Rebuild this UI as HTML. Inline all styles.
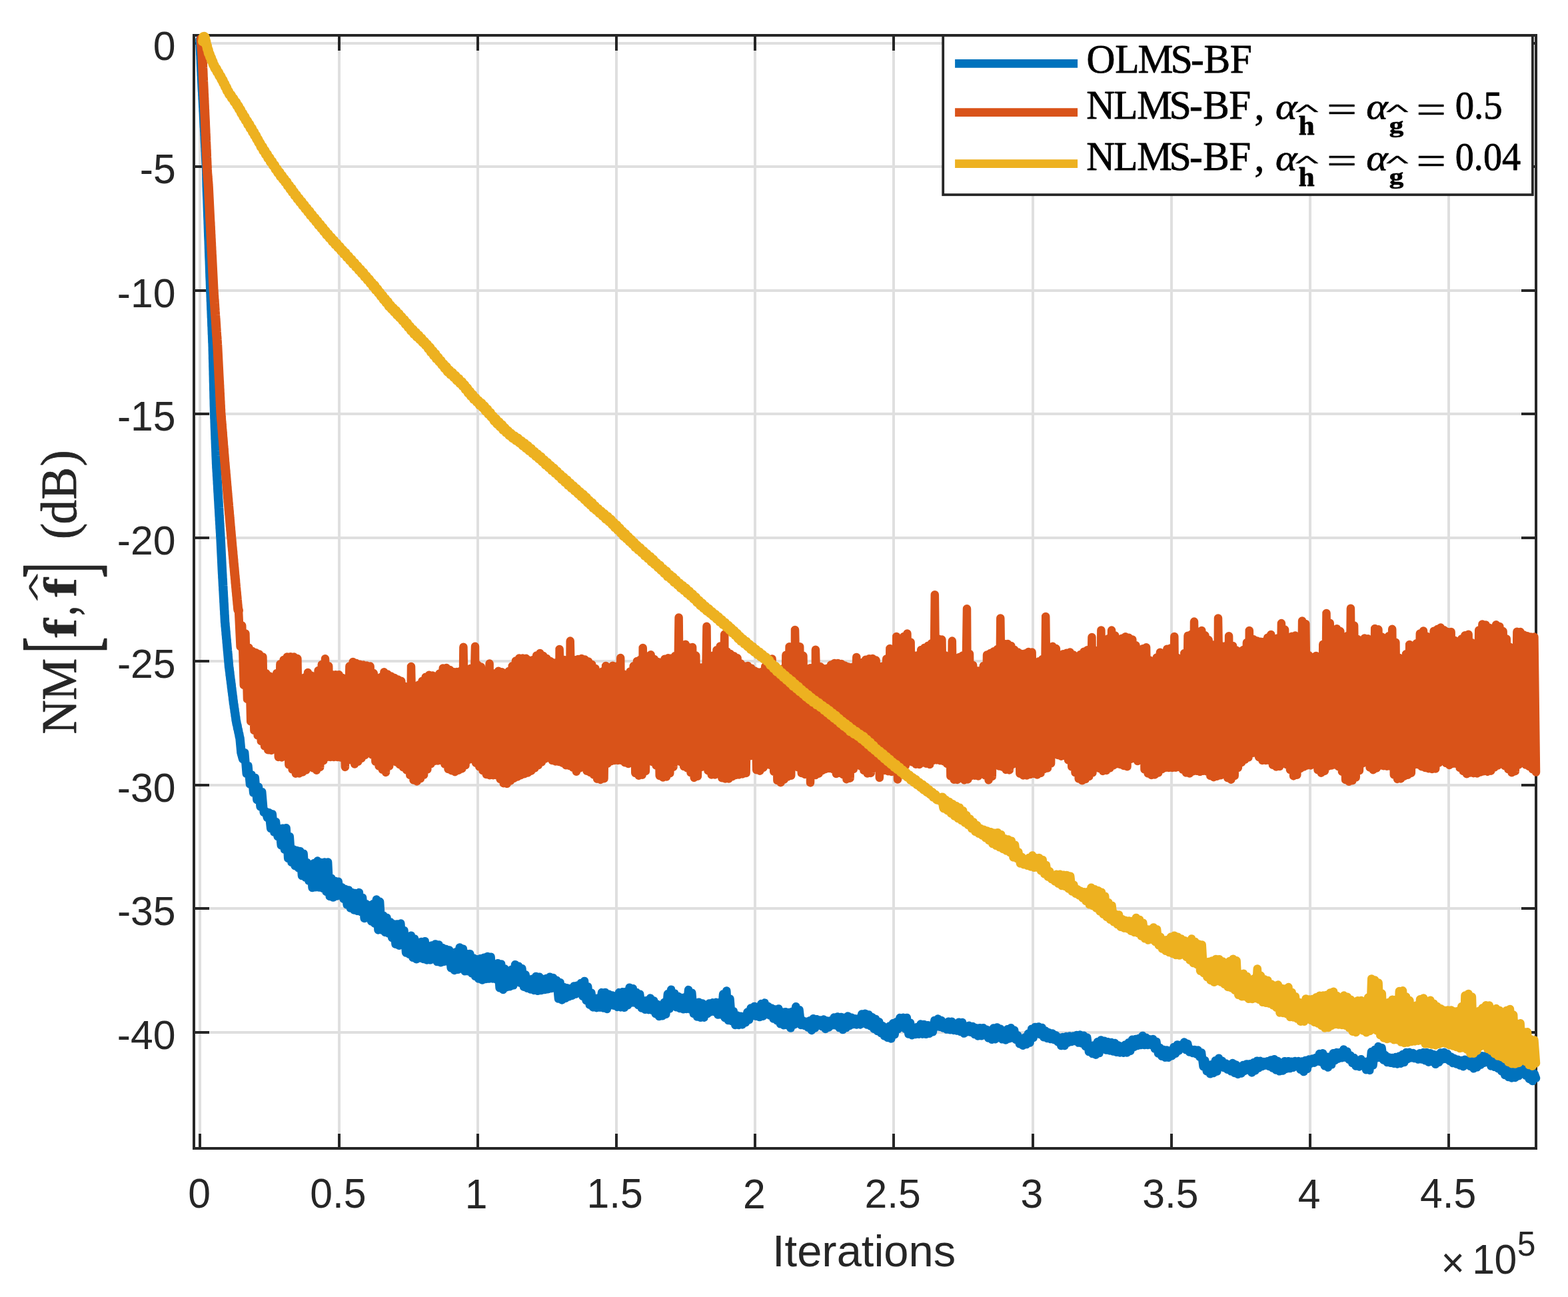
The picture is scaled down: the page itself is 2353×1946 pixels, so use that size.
<!DOCTYPE html>
<html lang="en"><head><meta charset="utf-8"><title>NM convergence</title>
<style>
html,body{margin:0;padding:0;background:#fff;}
body{width:2353px;height:1946px;overflow:hidden;}
svg{display:block;}
</style></head>
<body>
<svg width="2353" height="1946" viewBox="0 0 2353 1946" role="img" aria-label="Normalized misalignment versus iterations">
<rect width="2353" height="1946" fill="#fff"/>
<g stroke="#DFDFDF" stroke-width="4" fill="none" shape-rendering="crispEdges"><line x1="300.0" y1="53.0" x2="300.0" y2="1723.0"/><line x1="509.0" y1="53.0" x2="509.0" y2="1723.0"/><line x1="717.0" y1="53.0" x2="717.0" y2="1723.0"/><line x1="925.0" y1="53.0" x2="925.0" y2="1723.0"/><line x1="1133.0" y1="53.0" x2="1133.0" y2="1723.0"/><line x1="1341.0" y1="53.0" x2="1341.0" y2="1723.0"/><line x1="1550.0" y1="53.0" x2="1550.0" y2="1723.0"/><line x1="1758.0" y1="53.0" x2="1758.0" y2="1723.0"/><line x1="1966.0" y1="53.0" x2="1966.0" y2="1723.0"/><line x1="2174.0" y1="53.0" x2="2174.0" y2="1723.0"/><line x1="291.0" y1="65.0" x2="2305.0" y2="65.0"/><line x1="291.0" y1="250.0" x2="2305.0" y2="250.0"/><line x1="291.0" y1="436.0" x2="2305.0" y2="436.0"/><line x1="291.0" y1="621.0" x2="2305.0" y2="621.0"/><line x1="291.0" y1="807.0" x2="2305.0" y2="807.0"/><line x1="291.0" y1="992.0" x2="2305.0" y2="992.0"/><line x1="291.0" y1="1178.0" x2="2305.0" y2="1178.0"/><line x1="291.0" y1="1363.0" x2="2305.0" y2="1363.0"/><line x1="291.0" y1="1549.0" x2="2305.0" y2="1549.0"/></g>
<g stroke="#262626" stroke-width="4" fill="none" shape-rendering="crispEdges"><rect x="291.0" y="53.0" width="2014.0" height="1670.0"/><line x1="300.0" y1="1723.0" x2="300.0" y2="1700.5"/><line x1="300.0" y1="53.0" x2="300.0" y2="75.5"/><line x1="509.0" y1="1723.0" x2="509.0" y2="1700.5"/><line x1="509.0" y1="53.0" x2="509.0" y2="75.5"/><line x1="717.0" y1="1723.0" x2="717.0" y2="1700.5"/><line x1="717.0" y1="53.0" x2="717.0" y2="75.5"/><line x1="925.0" y1="1723.0" x2="925.0" y2="1700.5"/><line x1="925.0" y1="53.0" x2="925.0" y2="75.5"/><line x1="1133.0" y1="1723.0" x2="1133.0" y2="1700.5"/><line x1="1133.0" y1="53.0" x2="1133.0" y2="75.5"/><line x1="1341.0" y1="1723.0" x2="1341.0" y2="1700.5"/><line x1="1341.0" y1="53.0" x2="1341.0" y2="75.5"/><line x1="1550.0" y1="1723.0" x2="1550.0" y2="1700.5"/><line x1="1550.0" y1="53.0" x2="1550.0" y2="75.5"/><line x1="1758.0" y1="1723.0" x2="1758.0" y2="1700.5"/><line x1="1758.0" y1="53.0" x2="1758.0" y2="75.5"/><line x1="1966.0" y1="1723.0" x2="1966.0" y2="1700.5"/><line x1="1966.0" y1="53.0" x2="1966.0" y2="75.5"/><line x1="2174.0" y1="1723.0" x2="2174.0" y2="1700.5"/><line x1="2174.0" y1="53.0" x2="2174.0" y2="75.5"/><line x1="291.0" y1="65.0" x2="313.5" y2="65.0"/><line x1="2305.0" y1="65.0" x2="2282.5" y2="65.0"/><line x1="291.0" y1="250.0" x2="313.5" y2="250.0"/><line x1="2305.0" y1="250.0" x2="2282.5" y2="250.0"/><line x1="291.0" y1="436.0" x2="313.5" y2="436.0"/><line x1="2305.0" y1="436.0" x2="2282.5" y2="436.0"/><line x1="291.0" y1="621.0" x2="313.5" y2="621.0"/><line x1="2305.0" y1="621.0" x2="2282.5" y2="621.0"/><line x1="291.0" y1="807.0" x2="313.5" y2="807.0"/><line x1="2305.0" y1="807.0" x2="2282.5" y2="807.0"/><line x1="291.0" y1="992.0" x2="313.5" y2="992.0"/><line x1="2305.0" y1="992.0" x2="2282.5" y2="992.0"/><line x1="291.0" y1="1178.0" x2="313.5" y2="1178.0"/><line x1="2305.0" y1="1178.0" x2="2282.5" y2="1178.0"/><line x1="291.0" y1="1363.0" x2="313.5" y2="1363.0"/><line x1="2305.0" y1="1363.0" x2="2282.5" y2="1363.0"/><line x1="291.0" y1="1549.0" x2="313.5" y2="1549.0"/><line x1="2305.0" y1="1549.0" x2="2282.5" y2="1549.0"/></g>
<polyline points="299.9,60.0 300.0,63.1 300.2,66.1 300.3,69.7 300.4,71.7 300.6,75.9 300.7,77.8 300.8,82.0 301.0,83.9 301.1,88.0 301.3,90.1 301.4,94.2 301.5,96.2 301.7,100.3 301.8,102.4 301.9,106.4 302.1,108.5 302.2,112.5 302.4,114.5 302.5,118.4 302.7,120.5 302.9,124.5 303.0,126.4 303.2,130.6 303.3,132.6 303.5,136.6 303.7,138.6 303.8,142.5 304.0,144.6 304.1,148.4 304.3,150.4 304.5,154.5 304.6,156.5 304.8,160.6 305.0,162.4 305.1,166.5 305.3,168.4 305.5,172.5 305.6,174.5 305.8,178.5 305.9,180.4 306.1,184.5 306.2,186.4 306.4,190.6 306.6,192.5 306.7,196.5 306.9,198.6 307.0,202.4 307.2,204.6 307.3,208.5 307.4,210.5 307.6,214.4 307.8,216.5 307.9,220.5 308.1,222.5 308.2,226.6 308.4,228.5 308.5,232.5 308.6,234.5 308.8,238.5 308.9,240.6 309.1,244.6 309.2,246.6 309.4,250.6 309.6,252.4 309.7,256.4 309.8,258.4 309.8,262.5 309.9,264.5 309.9,268.4 310.0,270.6 310.1,274.5 310.1,276.4 310.2,280.5 310.3,282.5 310.4,286.7 310.5,288.6 310.6,292.7 310.7,294.8 310.9,298.8 311.0,300.8 311.1,304.8 311.2,306.9 311.3,311.1 311.4,313.0 311.5,317.0 311.6,319.0 311.7,323.1 311.8,325.3 312.0,329.3 312.1,331.2 312.2,335.4 312.3,337.3 312.4,341.5 312.5,343.6 312.6,347.6 312.7,349.7 312.8,353.6 312.9,355.8 313.1,359.8 313.2,361.7 313.3,365.8 313.4,368.0 313.5,372.1 313.6,374.0 313.7,378.1 313.8,380.2 313.9,384.2 314.0,386.1 314.2,390.3 314.3,392.3 314.4,396.3 314.5,398.3 314.6,402.4 314.7,404.5 314.8,408.6 314.9,410.7 315.0,414.7 315.1,416.6 315.3,420.8 315.4,422.7 315.5,426.8 315.6,428.9 315.7,432.9 315.8,434.9 315.9,439.1 316.1,441.2 316.2,445.4 316.3,447.3 316.4,451.6 316.6,453.6 316.7,457.7 316.8,459.7 316.9,463.8 317.1,466.0 317.2,470.0 317.3,472.2 317.4,476.2 317.6,478.2 317.7,482.5 317.8,484.4 317.9,488.6 318.1,490.7 318.2,494.7 318.3,496.9 318.4,501.0 318.6,503.0 318.7,507.1 318.8,509.2 318.9,513.4 319.1,515.4 319.2,519.5 319.3,521.4 319.3,525.5 319.4,527.5 319.5,531.5 319.6,533.5 319.6,537.6 319.7,539.5 319.8,543.5 319.9,545.4 319.9,549.5 320.0,551.5 320.1,555.4 320.2,557.5 320.2,561.5 320.3,563.5 320.4,567.5 320.4,569.4 320.5,573.5 320.6,575.4 320.7,579.5 320.7,581.5 320.8,585.6 320.9,587.4 321.0,591.5 321.0,593.4 321.1,597.6 321.2,599.5 321.3,603.6 321.3,605.4 321.4,609.5 321.5,611.5 321.6,615.4 321.6,617.4 321.7,621.6 321.8,623.6 321.9,627.7 322.1,629.7 322.2,633.9 322.3,636.0 322.4,640.1 322.5,642.1 322.7,646.2 322.8,648.3 322.9,652.4 323.0,654.4 323.1,658.5 323.3,660.5 323.4,664.6 323.5,666.8 323.6,670.8 323.8,672.9 323.9,677.0 324.0,679.0 324.1,683.2 324.2,685.3 324.4,689.3 324.5,691.5 324.6,695.4 324.8,697.6 324.9,701.5 325.1,703.6 325.3,707.6 325.5,709.7 325.6,713.7 325.8,715.7 326.0,719.7 326.2,721.7 326.3,725.7 326.5,727.7 326.7,731.7 326.8,733.9 327.0,737.8 327.2,739.9 327.4,743.9 327.5,745.9 327.7,750.0 327.9,752.1 328.1,756.1 328.2,758.1 328.4,762.1 328.6,764.1 328.8,768.2 328.9,770.1 329.1,774.3 329.3,776.2 329.4,780.3 329.6,782.2 329.8,786.3 330.0,788.4 330.1,792.4 330.3,794.4 330.5,798.5 330.7,800.4 330.8,804.5 331.0,806.5 331.2,810.7 331.3,812.8 331.5,816.8 331.6,818.9 331.8,823.1 331.9,825.3 332.1,829.4 332.2,831.4 332.4,835.5 332.5,837.7 332.7,841.8 332.8,843.9 333.0,848.1 333.1,850.2 333.3,854.4 333.4,856.3 333.6,860.5 333.8,862.6 333.9,866.7 334.1,868.6 334.3,872.7 334.4,874.7 334.6,878.8 334.8,880.8 334.9,884.8 335.1,886.9 335.3,890.9 335.4,892.9 335.6,897.0 335.8,899.1 335.9,903.1 336.1,905.1 336.3,909.1 336.4,911.2 336.6,915.2 336.8,917.2 336.9,921.4 337.1,923.4 337.3,927.4 337.4,929.5 337.6,933.6 337.9,935.6 338.1,939.6 338.4,941.6 338.7,945.7 339.0,947.7 339.2,951.8 339.5,953.9 339.8,957.9 340.1,959.9 340.3,964.0 340.6,966.0 340.9,970.0 341.1,972.1 341.4,976.1 341.7,978.2 342.0,982.3 342.2,984.2 342.5,988.2 342.8,990.4 343.1,994.4 343.3,996.4 343.6,1000.6 344.0,1002.5 344.4,1006.5 344.8,1008.6 345.1,1012.7 345.5,1014.8 345.9,1018.9 346.3,1020.9 346.7,1025.0 347.1,1026.9 347.4,1031.0 347.8,1033.1 348.2,1037.2 348.6,1039.3 349.0,1043.3 349.4,1045.3 349.7,1049.3 350.1,1051.4 350.5,1055.5 351.0,1057.6 351.4,1061.7 351.9,1063.8 352.3,1068.0 352.8,1070.1 353.2,1074.2 353.7,1076.3 354.1,1080.4 354.6,1082.5 355.3,1086.5 356.0,1088.6 356.6,1092.8 357.3,1094.9 358.0,1098.8 358.6,1100.9 359.3,1105.1 360.0,1107.6 362.0,1129.2 364.6,1138.6" fill="none" stroke="#0072BD" stroke-width="13.50" stroke-linejoin="round" stroke-linecap="round"/>
<polyline points="362.0,1129.2 364.6,1138.6 367.2,1129.2 369.8,1161.1 372.4,1148.8 375.0,1176.8 377.6,1162.3 380.2,1189.6 382.8,1167.0 385.4,1200.0 388.0,1180.7 390.6,1210.4 393.2,1188.1 395.8,1219.0 398.4,1216.9 401.0,1226.9 403.6,1219.2 406.2,1243.1 408.8,1221.5 411.4,1248.6 414.0,1232.8 416.6,1255.0 419.2,1243.1 421.8,1268.4 424.4,1242.7 427.0,1274.8 429.6,1242.3 432.2,1287.9 434.8,1255.3 437.4,1293.8 440.0,1274.3 442.6,1299.2 445.2,1275.9 447.8,1302.4 450.4,1277.1 453.0,1314.1 455.6,1280.8 458.2,1316.4 460.8,1294.3 463.4,1321.6 466.0,1298.5 468.6,1332.0 471.2,1295.0 473.8,1331.3 476.4,1291.6 479.0,1331.6 481.6,1294.0 484.3,1332.9 486.9,1293.5 489.5,1337.9 492.1,1293.4 494.7,1344.9 497.3,1317.6 499.9,1346.6 502.5,1321.8 505.1,1344.6 507.7,1322.7 510.3,1343.6 512.9,1331.0 515.5,1348.8 518.1,1333.8 520.7,1357.6 523.3,1335.4 525.9,1362.6 528.5,1339.1 531.1,1365.5 533.7,1340.1 536.3,1366.9 538.9,1339.1 541.5,1368.1 544.1,1346.9 546.7,1377.9 549.3,1356.2 551.9,1377.0 554.5,1358.2 557.1,1382.4 559.7,1356.3 562.3,1385.8 564.9,1349.5 567.5,1395.4 570.1,1352.8 572.7,1395.4 575.3,1373.7 577.9,1398.9 580.5,1376.9 583.1,1400.5 585.7,1383.4 588.3,1407.2 590.9,1386.4 593.5,1416.7 596.1,1386.6 598.7,1418.8 601.3,1385.4 603.9,1417.9 606.5,1396.2 609.1,1429.4 611.7,1404.7 614.3,1432.0 616.9,1403.8 619.5,1436.8 622.1,1408.4 624.7,1439.3 627.3,1413.7 629.9,1437.5 632.5,1412.9 635.1,1439.0 637.7,1412.3 640.3,1440.5 642.9,1419.2 645.5,1440.4 648.1,1418.5 650.7,1439.1 653.3,1416.4 655.9,1443.1 658.5,1417.4 661.1,1444.3 663.7,1421.9 666.3,1442.9 668.9,1424.0 671.5,1440.3 674.1,1425.4 676.7,1452.4 679.3,1429.3 681.9,1456.0 684.5,1428.3 687.1,1454.7 689.7,1421.6 692.3,1450.9 694.9,1423.6 697.5,1457.3 700.1,1431.0 702.7,1457.3 705.3,1431.1 707.9,1460.4 710.5,1437.5 713.1,1464.9 715.7,1439.3 718.3,1468.6 720.9,1438.2 723.5,1470.4 726.1,1436.8 728.8,1469.1 731.4,1434.9 734.0,1468.4 736.6,1435.8 739.2,1468.4 741.8,1446.2 744.4,1469.4 747.0,1445.3 749.6,1482.3 752.2,1446.6 754.8,1484.9 757.4,1453.6 760.0,1481.3 762.6,1457.4 765.2,1480.2 767.8,1454.7 770.4,1478.4 773.0,1447.3 775.6,1470.6 778.2,1449.8 780.8,1474.8 783.4,1453.3 786.0,1480.7 788.6,1462.4 791.2,1482.7 793.8,1469.2 796.4,1484.6 799.0,1468.8 801.6,1485.9 804.2,1464.9 806.8,1486.8 809.4,1465.8 812.0,1486.0 814.6,1469.0 817.2,1485.1 819.8,1468.0 822.4,1484.2 825.0,1465.7 827.6,1483.1 830.2,1467.1 832.8,1482.1 835.4,1470.9 838.0,1498.6 840.6,1474.3 843.2,1500.5 845.8,1481.0 848.4,1497.9 851.0,1482.3 853.6,1495.4 856.2,1482.9 858.8,1493.7 861.4,1479.4 864.0,1491.6 866.6,1478.4 869.2,1489.6 871.8,1475.0 874.4,1494.8 877.0,1471.9 879.6,1501.2 882.2,1480.4 884.8,1507.8 887.4,1489.8 890.0,1511.4 892.6,1497.6 895.2,1512.2 897.8,1497.4 900.4,1511.7 903.0,1489.1 905.6,1512.5 908.2,1489.0 910.8,1514.0 913.4,1491.7 916.0,1508.3 918.6,1493.5 921.2,1508.8 923.8,1494.3 926.4,1510.9 929.0,1489.1 931.6,1511.4 934.2,1488.3 936.8,1511.9 939.4,1487.9 942.0,1508.2 944.6,1481.7 947.2,1504.6 949.8,1483.3 952.4,1504.6 955.0,1488.8 957.6,1508.0 960.2,1491.7 962.8,1512.6 965.4,1501.0 968.0,1514.8 970.7,1501.0 973.3,1515.2 975.9,1497.6 978.5,1515.7 981.1,1501.3 983.7,1521.1 986.3,1506.7 988.9,1525.0 991.5,1508.4 994.1,1524.3 996.7,1504.0 999.3,1521.7 1001.9,1491.3 1004.5,1513.8 1007.1,1484.7 1009.7,1508.3 1012.3,1490.5 1014.9,1511.3 1017.5,1494.8 1020.1,1513.0 1022.7,1497.0 1025.3,1514.3 1027.9,1496.2 1030.5,1513.9 1033.1,1485.1 1035.7,1514.5 1038.3,1489.7 1040.9,1521.1 1043.5,1504.5 1046.1,1525.5 1048.7,1503.8 1051.3,1526.8 1053.9,1505.5 1056.5,1526.7 1059.1,1508.0 1061.7,1521.1 1064.3,1505.4 1066.9,1518.2 1069.5,1504.3 1072.1,1518.2 1074.7,1503.8 1077.3,1522.5 1079.9,1503.9 1082.5,1522.4 1085.1,1491.4 1087.7,1527.0 1090.3,1486.5 1092.9,1531.1 1095.5,1498.8 1098.1,1532.1 1100.7,1517.1 1103.3,1538.0 1105.9,1523.4 1108.5,1538.0 1111.1,1524.7 1113.7,1537.4 1116.3,1525.0 1118.9,1534.2 1121.5,1518.6 1124.1,1530.2 1126.7,1512.4 1129.3,1524.1 1131.9,1510.0 1134.5,1524.8 1137.1,1510.8 1139.7,1526.1 1142.3,1506.1 1144.9,1524.8 1147.5,1504.6 1150.1,1522.1 1152.7,1509.9 1155.3,1523.6 1157.9,1512.5 1160.5,1528.5 1163.1,1514.5 1165.7,1531.1 1168.3,1513.4 1170.9,1536.3 1173.5,1518.5 1176.1,1538.2 1178.7,1518.3 1181.3,1538.2 1183.9,1518.9 1186.5,1542.6 1189.1,1517.7 1191.7,1537.5 1194.3,1510.2 1196.9,1535.6 1199.5,1515.1 1202.1,1538.1 1204.7,1531.2 1207.3,1538.9 1209.9,1532.7 1212.6,1541.8 1215.2,1531.3 1217.8,1546.0 1220.4,1528.3 1223.0,1542.6 1225.6,1529.2 1228.2,1537.8 1230.8,1530.5 1233.4,1540.0 1236.0,1529.6 1238.6,1543.9 1241.2,1531.5 1243.8,1541.4 1246.4,1531.3 1249.0,1538.3 1251.6,1526.5 1254.2,1538.6 1256.8,1525.4 1259.4,1542.1 1262.0,1525.9 1264.6,1545.0 1267.2,1526.7 1269.8,1542.1 1272.4,1524.6 1275.0,1539.0 1277.6,1526.7 1280.2,1537.0 1282.8,1528.2 1285.4,1537.6 1288.0,1528.2 1290.6,1537.4 1293.2,1521.5 1295.8,1535.6 1298.4,1520.8 1301.0,1537.4 1303.6,1522.5 1306.2,1539.5 1308.8,1526.2 1311.4,1543.8 1314.0,1528.9 1316.6,1547.1 1319.2,1533.2 1321.8,1550.0 1324.4,1539.1 1327.0,1554.4 1329.6,1541.7 1332.2,1557.1 1334.8,1539.4 1337.4,1558.4 1340.0,1535.3 1342.6,1552.2 1345.2,1533.3 1347.8,1544.0 1350.4,1527.1 1353.0,1539.5 1355.6,1526.8 1358.2,1543.6 1360.8,1527.0 1363.4,1551.6 1366.0,1534.7 1368.6,1553.2 1371.2,1541.9 1373.8,1552.0 1376.4,1540.9 1379.0,1551.7 1381.6,1536.6 1384.2,1551.7 1386.8,1537.1 1389.4,1551.8 1392.0,1538.2 1394.6,1550.8 1397.2,1538.4 1399.8,1548.2 1402.4,1530.9 1405.0,1540.8 1407.6,1528.5 1410.2,1540.8 1412.8,1531.0 1415.4,1542.4 1418.0,1534.4 1420.6,1544.6 1423.2,1532.7 1425.8,1545.3 1428.4,1532.8 1431.0,1545.9 1433.6,1536.9 1436.2,1546.6 1438.8,1533.7 1441.4,1548.0 1444.0,1534.0 1446.6,1550.6 1449.2,1539.6 1451.8,1548.2 1454.4,1538.8 1457.1,1548.7 1459.7,1539.9 1462.3,1552.0 1464.9,1542.2 1467.5,1554.5 1470.1,1542.2 1472.7,1554.3 1475.3,1542.2 1477.9,1553.2 1480.5,1544.7 1483.1,1557.6 1485.7,1546.0 1488.3,1559.8 1490.9,1542.5 1493.5,1559.2 1496.1,1541.4 1498.7,1557.0 1501.3,1543.7 1503.9,1559.3 1506.5,1549.4 1509.1,1560.5 1511.7,1544.2 1514.3,1558.4 1516.9,1542.2 1519.5,1557.4 1522.1,1545.6 1524.7,1560.1 1527.3,1553.4 1529.9,1566.2 1532.5,1559.5 1535.1,1568.8 1537.7,1556.6 1540.3,1567.1 1542.9,1550.7 1545.5,1564.5 1548.1,1543.8 1550.7,1557.1 1553.3,1540.9 1555.9,1551.3 1558.5,1540.4 1561.1,1552.3 1563.7,1541.9 1566.3,1556.3 1568.9,1546.6 1571.5,1558.0 1574.1,1549.2 1576.7,1559.1 1579.3,1550.5 1581.9,1560.0 1584.5,1553.3 1587.1,1563.0 1589.7,1556.5 1592.3,1569.1 1594.9,1556.1 1597.5,1569.1 1600.1,1555.1 1602.7,1564.5 1605.3,1554.5 1607.9,1563.1 1610.5,1554.5 1613.1,1562.0 1615.7,1553.0 1618.3,1564.6 1620.9,1552.5 1623.5,1565.6 1626.1,1553.7 1628.7,1570.0 1631.3,1556.7 1633.9,1578.0 1636.5,1569.1 1639.1,1581.0 1641.7,1568.2 1644.3,1582.7 1646.9,1563.3 1649.5,1580.1 1652.1,1560.4 1654.7,1570.4 1657.3,1561.7 1659.9,1575.5 1662.5,1563.2 1665.1,1576.4 1667.7,1563.9 1670.3,1577.5 1672.9,1564.9 1675.5,1578.8 1678.1,1568.2 1680.7,1579.4 1683.3,1570.0 1685.9,1579.7 1688.5,1567.4 1691.1,1579.4 1693.7,1564.2 1696.3,1576.9 1699.0,1559.7 1701.6,1571.0 1704.2,1558.9 1706.8,1569.0 1709.4,1557.7 1712.0,1568.0 1714.6,1554.0 1717.2,1568.0 1719.8,1556.8 1722.4,1568.0 1725.0,1559.3 1727.6,1568.0 1730.2,1558.9 1732.8,1573.5 1735.4,1562.9 1738.0,1580.6 1740.6,1572.1 1743.2,1584.7 1745.8,1574.9 1748.4,1586.7 1751.0,1575.5 1753.6,1586.8 1756.2,1579.1 1758.8,1584.2 1761.4,1571.0 1764.0,1580.7 1766.6,1567.4 1769.2,1576.4 1771.8,1567.7 1774.4,1573.0 1777.0,1563.6 1779.6,1575.1 1782.2,1566.1 1784.8,1578.6 1787.4,1574.4 1790.0,1580.1 1792.6,1574.9 1795.2,1581.6 1797.8,1575.5 1800.4,1585.9 1803.0,1579.3 1805.6,1600.2 1808.2,1590.9 1810.8,1607.2 1813.4,1597.5 1816.0,1611.3 1818.6,1597.1 1821.2,1610.0 1823.8,1591.3 1826.4,1607.5 1829.0,1587.8 1831.6,1599.5 1834.2,1591.7 1836.8,1602.1 1839.4,1595.4 1842.0,1604.7 1844.6,1597.2 1847.2,1607.3 1849.8,1595.0 1852.4,1609.9 1855.0,1597.5 1857.6,1611.9 1860.2,1601.9 1862.8,1610.6 1865.4,1598.1 1868.0,1606.7 1870.6,1596.4 1873.2,1605.5 1875.8,1596.2 1878.4,1609.4 1881.0,1594.3 1883.6,1606.4 1886.2,1591.7 1888.8,1602.5 1891.4,1591.8 1894.0,1600.1 1896.6,1593.0 1899.2,1598.6 1901.8,1592.3 1904.4,1600.0 1907.0,1590.4 1909.6,1602.4 1912.2,1589.2 1914.8,1605.4 1917.4,1591.9 1920.0,1607.3 1922.6,1596.5 1925.2,1606.5 1927.8,1592.2 1930.4,1603.7 1933.0,1592.2 1935.6,1603.1 1938.2,1592.8 1940.9,1601.7 1943.5,1592.0 1946.1,1600.0 1948.7,1592.1 1951.3,1604.7 1953.9,1592.6 1956.5,1608.1 1959.1,1590.9 1961.7,1603.9 1964.3,1589.6 1966.9,1595.7 1969.5,1588.5 1972.1,1594.8 1974.7,1586.9 1977.3,1592.6 1979.9,1581.1 1982.5,1593.6 1985.1,1580.3 1987.7,1599.2 1990.3,1585.5 1992.9,1601.6 1995.5,1585.6 1998.1,1597.5 2000.7,1580.3 2003.3,1591.1 2005.9,1579.0 2008.5,1588.5 2011.1,1579.0 2013.7,1587.3 2016.3,1574.5 2018.9,1586.4 2021.5,1577.6 2024.1,1589.7 2026.7,1583.5 2029.3,1595.0 2031.9,1587.0 2034.5,1599.6 2037.1,1590.8 2039.7,1600.4 2042.3,1589.2 2044.9,1598.4 2047.5,1592.7 2050.1,1605.2 2052.7,1592.2 2055.3,1605.9 2057.9,1578.0 2060.5,1598.4 2063.1,1574.9 2065.7,1587.5 2068.3,1570.1 2070.9,1587.0 2073.5,1572.1 2076.1,1590.5 2078.7,1582.8 2081.3,1593.9 2083.9,1586.2 2086.5,1594.8 2089.1,1587.0 2091.7,1595.7 2094.3,1586.1 2096.9,1596.5 2099.5,1584.8 2102.1,1595.7 2104.7,1582.1 2107.3,1594.0 2109.9,1579.0 2112.5,1588.9 2115.1,1578.7 2117.7,1587.3 2120.3,1580.0 2122.9,1588.1 2125.5,1582.1 2128.1,1589.5 2130.7,1580.2 2133.3,1589.5 2135.9,1579.0 2138.5,1591.2 2141.1,1579.0 2143.7,1593.7 2146.3,1580.3 2148.9,1592.8 2151.5,1582.0 2154.1,1596.8 2156.7,1582.8 2159.3,1594.0 2161.9,1579.5 2164.5,1589.4 2167.1,1578.8 2169.7,1588.9 2172.3,1581.2 2174.9,1591.7 2177.5,1585.5 2180.1,1595.1 2182.7,1588.1 2185.4,1596.4 2188.0,1589.8 2190.6,1598.6 2193.2,1591.0 2195.8,1600.2 2198.4,1589.7 2201.0,1597.6 2203.6,1590.1 2206.2,1599.8 2208.8,1593.0 2211.4,1603.3 2214.0,1590.4 2216.6,1601.3 2219.2,1585.7 2221.8,1597.7 2224.4,1584.3 2227.0,1594.8 2229.6,1584.2 2232.2,1593.9 2234.8,1587.1 2237.4,1599.5 2240.0,1590.3 2242.6,1600.8 2245.2,1593.6 2247.8,1603.1 2250.4,1596.9 2253.0,1607.0 2255.6,1600.8 2258.2,1613.0 2260.8,1603.9 2263.4,1616.0 2266.0,1605.9 2268.6,1617.5 2271.2,1605.9 2273.8,1617.0 2276.4,1605.2 2279.0,1614.2 2281.6,1603.3 2284.2,1609.9 2286.8,1602.9 2289.4,1613.7 2292.0,1605.6 2294.6,1618.9 2297.2,1609.1 2299.8,1622.1 2302.4,1610.4 2305.0,1617.7" fill="none" stroke="#0072BD" stroke-width="12.50" stroke-linejoin="round" stroke-linecap="round"/>
<polyline points="301.6,58.5 301.8,61.6 302.1,64.6 302.3,68.3 302.5,70.2 302.7,74.4 303.0,76.5 303.2,80.4 303.4,83.0 303.6,87.5 303.7,90.0 303.9,94.6 304.1,97.0 304.2,101.7 304.4,104.2 304.6,109.0 304.7,111.5 304.8,115.5 305.0,117.5 305.1,121.5 305.2,123.5 305.4,127.6 305.5,129.5 305.7,133.6 305.8,135.5 305.9,139.6 306.1,141.5 306.2,145.4 306.4,147.4 306.5,151.6 306.6,153.5 306.8,157.4 306.9,159.5 307.0,163.5 307.2,165.5 307.3,169.6 307.4,171.5 307.6,175.5 307.7,177.5 307.9,181.5 308.0,183.4 308.1,187.6 308.2,189.5 308.4,193.5 308.5,195.5 308.6,199.6 308.8,201.4 308.9,205.4 309.0,207.5 309.1,211.5 309.2,213.5 309.4,217.5 309.5,219.6 309.6,223.6 309.8,225.5 309.9,229.4 310.0,231.5 310.1,235.5 310.2,237.5 310.4,241.5 310.5,243.6 310.6,247.5 310.8,249.4 310.9,253.5 311.0,255.6 311.2,259.6 311.4,261.6 311.7,265.5 311.9,267.4 312.1,271.5 312.4,273.5 312.6,277.5 312.8,279.5 313.0,283.5 313.1,285.5 313.3,289.6 313.4,291.7 313.6,295.8 313.7,297.8 313.9,301.9 314.0,303.9 314.2,308.0 314.3,309.9 314.5,314.1 314.6,316.0 314.8,320.1 314.9,322.1 315.1,326.3 315.2,328.3 315.4,332.3 315.6,334.3 315.7,338.4 315.9,340.5 316.0,344.6 316.2,346.6 316.3,350.6 316.5,352.6 316.6,356.7 316.8,358.9 316.9,362.8 317.1,364.8 317.2,368.9 317.4,371.0 317.5,375.0 317.7,377.0 317.8,381.1 318.0,383.2 318.2,387.3 318.3,389.2 318.5,393.3 318.6,395.4 318.8,399.4 318.9,401.5 319.1,405.5 319.2,407.6 319.4,411.7 319.5,413.7 319.7,417.7 319.8,419.7 320.0,423.9 320.1,425.9 320.3,429.9 320.4,432.0 320.6,436.0 320.8,438.1 321.0,442.2 321.2,444.2 321.4,448.3 321.7,450.5 321.9,454.6 322.1,456.7 322.3,460.7 322.5,462.8 322.7,466.9 322.9,469.0 323.1,473.1 323.3,475.1 323.6,479.4 323.8,481.5 324.0,485.4 324.2,487.5 324.4,491.7 324.6,493.8 324.8,497.9 325.0,499.9 325.2,504.0 325.5,506.1 325.7,510.2 325.9,512.3 326.1,516.4 326.3,518.5 326.5,522.5 326.6,524.6 326.8,528.5 326.9,530.6 327.1,534.4 327.2,536.5 327.4,540.5 327.5,542.4 327.7,546.5 327.8,548.5 328.0,552.4 328.1,554.4 328.3,558.4 328.4,560.5 328.6,564.6 328.7,566.4 328.9,570.6 329.1,572.5 329.2,576.5 329.4,578.4 329.5,582.4 329.7,584.4 329.8,588.6 330.0,590.5 330.1,594.6 330.3,596.5 330.4,600.5 330.6,602.5 330.7,606.4 330.9,608.4 331.0,612.6 331.2,614.5 331.3,618.6 331.5,620.6 331.8,624.7 332.0,626.7 332.2,630.8 332.5,632.8 332.8,637.0 333.0,639.1 333.2,643.0 333.5,645.1 333.8,649.3 334.0,651.3 334.2,655.3 334.5,657.5 334.8,661.6 335.0,663.7 335.2,667.8 335.5,669.8 335.8,674.0 336.0,676.0 336.2,680.1 336.5,682.2 336.8,686.3 337.0,688.4 337.2,692.4 337.5,694.5 337.8,698.5 338.0,700.6 338.3,704.5 338.6,706.6 338.8,710.6 339.1,712.6 339.4,716.6 339.6,718.7 339.9,722.7 340.1,724.7 340.4,728.8 340.7,730.9 340.9,734.8 341.2,736.9 341.5,741.0 341.7,742.9 342.0,746.9 342.3,749.0 342.5,753.0 342.8,755.0 343.1,759.1 343.3,761.1 343.6,765.1 343.9,767.2 344.1,771.2 344.4,773.2 344.7,777.2 344.9,779.2 345.2,783.3 345.4,785.3 345.7,789.4 346.0,791.3 346.2,795.5 346.5,797.4 346.8,801.5 347.0,803.4 347.3,807.4 347.6,809.5 347.9,813.6 348.1,815.7 348.4,819.6 348.7,821.7 349.0,825.7 349.3,827.7 349.5,831.8 349.8,833.9 350.1,837.8 350.4,839.9 350.6,844.1 350.9,846.1 351.2,850.1 351.5,852.0 351.8,856.1 352.0,858.2 352.3,862.3 352.6,864.2 352.9,868.3 353.2,870.3 353.4,874.4 353.7,876.5 354.0,880.6 354.3,882.8 354.6,886.9 354.9,889.0 355.2,893.3 355.5,895.4 355.8,899.6 356.1,901.8 356.4,906.0 356.7,908.2 357.0,912.4 357.3,915.0 358.0,915.7" fill="none" stroke="#D95319" stroke-width="14.00" stroke-linejoin="round" stroke-linecap="round"/>
<polyline points="358.0,915.7 360.6,970.1 363.2,938.5 365.8,1028.0 368.4,950.4 371.0,1049.0 373.6,971.8 376.2,1082.6 378.8,977.0 381.4,1096.0 384.0,979.2 386.6,1103.4 389.2,981.6 391.8,1112.1 394.4,985.4 397.0,1119.5 399.6,1010.3 402.2,1125.3 404.8,1014.5 407.4,1125.9 410.0,1018.6 412.6,1123.7 415.2,1009.9 417.8,1135.9 420.4,996.3 423.0,1136.4 425.6,990.1 428.2,1133.8 430.8,985.5 433.4,1147.4 436.0,985.3 438.6,1154.4 441.2,985.6 443.8,1160.7 446.4,988.1 449.0,1160.5 451.6,1024.0 454.2,1158.6 456.8,1016.4 459.4,1155.5 462.0,1008.9 464.6,1149.1 467.2,1013.6 469.8,1152.5 472.4,1014.7 475.0,1155.8 477.6,1005.9 480.2,1151.2 482.8,997.1 485.4,1141.4 488.0,988.3 490.6,1136.0 493.2,999.2 495.8,1136.0 498.4,1012.3 501.0,1136.0 503.6,1012.3 506.2,1136.0 508.8,1012.3 511.4,1136.5 514.0,1017.0 517.9,1150.9 519.2,1017.8 521.8,1138.0 524.4,999.5 527.0,1140.4 529.6,993.0 532.2,1146.5 534.8,995.1 537.4,1142.8 540.0,996.7 542.6,1137.9 545.2,997.6 547.8,1133.0 550.4,998.6 553.0,1128.1 555.6,999.6 558.2,1132.4 560.8,1010.1 563.4,1142.8 566.0,1026.5 568.6,1149.5 571.2,1015.9 573.8,1154.7 576.4,1008.3 579.0,1158.9 581.6,1011.4 584.2,1149.6 586.8,1014.5 589.4,1140.4 592.0,1017.0 594.6,1143.4 597.2,1019.4 599.8,1147.3 602.3,1021.8 604.9,1151.2 607.5,1029.8 610.1,1155.5 612.7,1030.5 615.3,1163.1 617.0,1000.0 620.5,1170.6 623.1,1032.0 625.7,1172.4 628.3,1027.6 630.9,1168.3 633.5,1021.7 636.1,1162.8 638.7,1015.7 641.3,1154.6 643.9,1012.7 646.5,1146.3 649.1,1013.6 651.7,1142.0 654.3,1014.4 656.9,1141.6 659.5,1010.4 662.1,1141.1 664.7,1002.6 667.3,1146.5 669.9,1002.0 672.5,1153.9 675.1,1005.0 677.7,1156.2 680.3,1008.0 682.9,1158.2 685.5,1007.9 688.1,1155.8 690.7,1007.0 693.3,1153.4 695.4,970.7 698.5,1148.3 701.1,1005.1 703.7,1139.9 706.3,1002.8 708.9,1139.2 713.0,969.8 714.1,1144.9 716.7,997.3 719.3,1150.6 721.9,1000.4 724.5,1156.3 727.1,1021.4 729.7,1162.0 734.6,995.5 734.9,1163.3 737.5,1014.0 740.1,1163.3 742.7,1010.2 745.3,1163.3 747.9,1006.7 750.5,1169.0 753.1,1008.2 755.7,1175.3 758.3,1014.5 760.9,1175.9 763.5,1006.9 766.1,1171.7 768.7,999.2 771.3,1167.9 773.9,991.6 776.5,1165.5 779.1,987.6 781.7,1163.2 784.3,987.6 786.9,1161.3 789.5,987.8 792.1,1159.5 794.7,990.8 797.3,1156.7 799.9,989.9 802.5,1152.5 805.1,983.5 807.7,1148.3 810.3,980.0 812.9,1143.5 815.5,984.1 818.1,1138.7 820.7,988.1 823.3,1135.8 825.9,991.9 828.5,1141.0 831.1,994.5 833.7,1142.6 836.3,993.5 838.9,1143.1 839.6,974.0 844.1,1144.8 846.7,990.1 849.3,1148.3 851.9,990.1 854.5,1149.1 855.7,961.6 859.7,1151.8 862.3,990.1 864.9,1157.8 867.5,989.1 870.1,1152.6 872.7,987.9 875.3,1149.8 877.9,989.6 880.5,1156.7 883.1,992.5 885.7,1159.0 888.3,997.0 890.9,1162.6 893.5,1003.0 896.1,1168.7 898.7,1021.2 901.3,1169.9 903.9,1007.5 906.5,1168.3 909.1,998.9 911.7,1145.8 914.3,1004.1 916.9,1142.3 919.5,998.8 922.1,1141.0 924.7,999.8 927.3,1141.0 931.2,987.1 932.5,1141.0 935.1,1011.0 937.7,1144.3 940.3,1013.2 942.9,1146.0 945.5,1007.6 948.1,1142.6 950.7,999.2 953.3,1159.9 955.9,992.0 958.5,1163.8 961.1,989.6 963.7,1162.8 964.7,972.0 968.9,1157.1 971.5,984.8 974.1,1142.2 976.7,982.3 979.3,1143.2 981.9,988.9 984.5,1148.4 987.1,993.0 989.7,1164.0 992.3,993.4 994.9,1166.6 997.5,988.8 1000.1,1165.5 1002.7,987.2 1005.3,1160.4 1007.9,987.5 1010.5,1150.9 1013.1,984.1 1015.7,1135.8 1018.6,926.4 1020.9,1143.0 1023.5,970.3 1026.1,1150.0 1028.7,966.7 1031.3,1152.6 1033.9,971.3 1036.5,1159.2 1039.1,970.9 1041.7,1166.9 1044.3,983.6 1046.9,1164.8 1049.5,1001.3 1052.1,1151.2 1054.7,1001.0 1057.3,1150.4 1060.5,939.8 1062.5,1156.4 1065.1,987.5 1067.7,1162.5 1070.3,983.6 1072.9,1162.6 1075.5,975.3 1078.1,1155.3 1080.7,969.4 1083.3,1167.2 1087.2,951.7 1088.4,1168.5 1091.0,977.4 1093.6,1168.6 1096.2,981.1 1098.8,1165.3 1101.4,984.2 1104.0,1163.0 1106.6,987.3 1109.2,1162.4 1111.8,995.6 1114.4,1161.4 1117.0,999.6 1119.6,1160.1 1122.2,998.9 1124.8,1134.7 1127.4,1002.4 1130.0,1133.7 1132.6,1006.5 1135.2,1155.2 1137.8,1008.4 1140.4,1156.7 1143.0,1007.9 1145.6,1151.9 1148.2,1000.1 1150.8,1147.4 1153.4,993.3 1156.0,1148.0 1158.6,988.5 1161.2,1157.7 1163.8,1001.1 1166.4,1171.1 1169.0,1004.9 1171.6,1174.2 1174.2,1003.6 1176.8,1169.7 1179.4,982.8 1182.0,1165.5 1184.6,970.2 1187.2,1163.8 1189.8,970.2 1192.4,1140.1 1193.0,945.0 1197.6,1151.5 1200.2,970.2 1202.8,1160.1 1205.4,983.8 1208.0,1161.9 1210.6,1005.9 1213.2,1162.4 1215.8,1002.2 1216.0,1174.4 1221.0,1000.9 1223.6,1163.1 1223.9,974.7 1228.8,1160.7 1231.4,1000.3 1234.0,1156.2 1236.6,1003.3 1239.2,1153.9 1241.8,1002.6 1244.4,1152.9 1247.0,997.4 1249.6,1154.0 1252.2,995.0 1254.8,1161.0 1257.4,995.0 1260.0,1159.8 1262.6,996.0 1265.2,1162.2 1267.8,998.6 1270.4,1169.2 1273.0,1000.4 1275.6,1167.7 1278.2,1001.1 1280.8,1154.1 1285.3,985.9 1286.0,1143.1 1288.6,996.7 1291.2,1149.6 1293.8,994.1 1296.4,1156.1 1299.0,989.7 1301.6,1160.6 1304.2,988.2 1306.8,1159.9 1309.4,988.0 1312.0,1152.2 1314.6,990.6 1317.2,1152.5 1319.8,999.9 1319.8,1167.0 1325.0,999.5 1327.6,1155.9 1330.2,988.6 1332.8,1157.2 1335.4,973.0 1338.0,1158.0 1340.6,976.9 1343.2,1156.1 1345.3,954.9 1347.0,1169.5 1351.0,988.9 1353.6,1152.2 1356.2,955.0 1358.8,1148.8 1361.4,950.5 1364.0,1142.8 1366.6,963.4 1369.2,1143.4 1371.8,983.4 1374.4,1146.8 1377.0,983.3 1379.6,1147.0 1382.2,974.9 1384.8,1144.4 1387.4,971.8 1390.0,1145.7 1392.6,968.7 1395.2,1147.1 1397.8,965.3 1400.4,1141.1 1402.8,892.2 1405.6,1140.4 1408.2,958.4 1410.8,1141.3 1413.4,959.6 1416.0,1142.2 1418.6,983.3 1421.2,1146.1 1423.8,985.8 1426.4,1164.6 1428.8,961.6 1431.6,1169.8 1434.2,987.3 1436.8,1169.9 1439.4,986.0 1442.0,1167.5 1444.6,983.6 1447.2,1170.4 1451.0,913.3 1452.4,1169.4 1455.0,981.0 1457.6,1164.2 1460.2,998.0 1462.8,1163.8 1465.4,1006.2 1468.0,1164.5 1470.6,1006.2 1473.2,1156.1 1475.8,999.0 1478.4,1163.4 1481.0,982.5 1483.6,1170.4 1486.2,979.9 1488.8,1165.2 1491.4,977.3 1494.0,1148.6 1496.6,973.9 1499.2,1149.6 1501.3,927.4 1504.4,1150.7 1507.0,966.1 1509.6,1154.9 1512.2,966.0 1514.8,1155.4 1517.4,968.9 1520.0,1146.9 1522.6,975.1 1525.2,1141.7 1527.8,978.6 1530.4,1160.8 1533.0,981.1 1535.6,1163.4 1538.2,980.6 1540.8,1163.6 1543.4,977.9 1546.0,1162.0 1548.6,978.4 1551.2,1161.1 1553.8,993.6 1556.4,1162.6 1559.0,992.3 1561.6,1160.1 1564.2,989.0 1566.8,1154.1 1569.2,924.9 1572.0,1152.6 1574.6,974.8 1577.1,1145.6 1579.7,969.8 1582.3,1131.1 1584.9,973.1 1587.5,1133.1 1590.1,982.5 1592.7,1134.7 1595.3,981.2 1597.9,1133.8 1600.5,979.8 1603.1,1140.6 1605.7,978.5 1608.3,1150.6 1610.9,982.4 1613.5,1159.2 1616.1,987.2 1618.7,1168.5 1621.3,982.0 1623.9,1171.3 1626.5,977.8 1629.1,1169.0 1631.7,975.2 1634.3,1165.1 1638.5,955.9 1639.5,1159.5 1642.1,975.2 1644.7,1152.3 1647.3,977.5 1649.9,1152.9 1652.4,945.5 1655.1,1156.9 1657.7,990.1 1660.3,1156.0 1662.9,958.3 1665.5,1152.6 1668.1,945.6 1670.7,1148.5 1673.3,953.4 1675.9,1146.3 1678.5,960.5 1681.1,1147.1 1683.7,957.8 1686.3,1149.1 1688.9,955.2 1691.5,1150.3 1694.1,956.8 1696.7,1139.0 1699.3,959.4 1701.9,1138.1 1704.5,968.2 1707.1,1142.0 1709.7,976.9 1712.3,1141.1 1714.9,973.2 1717.5,1154.6 1720.1,971.2 1722.7,1160.6 1725.3,990.4 1727.9,1163.0 1730.5,994.4 1733.1,1162.4 1735.7,986.6 1738.3,1159.5 1740.9,978.7 1743.5,1154.3 1746.1,982.4 1748.7,1152.1 1751.3,973.7 1753.9,1152.1 1756.5,972.4 1759.1,1152.1 1762.3,954.9 1764.3,1151.7 1766.9,986.8 1769.5,1151.0 1772.1,990.6 1774.7,1154.7 1777.3,980.0 1779.9,1159.4 1782.5,953.8 1785.1,1160.6 1787.7,951.8 1790.3,1157.4 1792.0,932.6 1795.5,1156.8 1798.1,947.8 1800.7,1158.1 1803.3,945.9 1805.9,1156.8 1808.5,953.3 1811.1,1157.4 1813.7,960.1 1816.3,1164.1 1818.9,967.3 1821.5,1166.2 1824.1,973.9 1826.7,1164.7 1828.0,927.4 1831.9,1163.3 1834.5,969.6 1837.1,1162.0 1839.7,969.0 1842.3,1167.2 1844.1,954.2 1847.5,1169.7 1850.1,969.0 1852.7,1164.2 1855.3,975.6 1857.9,1152.0 1860.5,977.4 1863.1,1144.2 1865.7,974.9 1868.3,1139.8 1870.9,964.0 1873.5,1136.5 1874.8,946.0 1878.7,1130.2 1881.3,959.3 1883.9,1129.8 1886.5,961.5 1889.1,1136.0 1891.7,962.8 1894.3,1141.0 1896.9,962.8 1899.5,1141.0 1902.1,956.8 1904.7,1141.0 1907.3,952.0 1909.9,1147.8 1912.5,958.2 1915.1,1150.5 1917.7,957.3 1920.3,1150.0 1922.9,935.1 1925.5,1144.6 1928.1,944.6 1930.7,1147.3 1933.3,963.9 1935.9,1154.9 1938.5,954.8 1941.1,1164.4 1943.7,953.6 1946.3,1162.8 1948.9,956.3 1951.5,1153.2 1954.1,931.5 1956.7,1150.6 1959.3,935.9 1961.9,1148.4 1964.5,983.3 1967.1,1148.4 1969.7,987.8 1972.3,1147.0 1974.9,984.0 1977.5,1155.2 1980.1,985.9 1982.7,1159.7 1985.3,966.7 1987.9,1156.9 1990.5,920.0 1993.1,1149.8 1995.7,934.7 1998.3,1148.6 2000.9,951.1 2003.5,1147.6 2006.1,943.2 2008.7,1150.3 2011.3,947.1 2013.9,1157.9 2016.5,990.8 2019.1,1170.1 2021.7,954.1 2024.3,1172.8 2026.9,912.7 2029.5,1171.3 2032.1,938.5 2034.7,1166.5 2037.3,959.0 2039.9,1156.3 2042.5,961.5 2045.1,1145.4 2047.7,957.6 2050.3,1144.2 2052.9,958.3 2055.5,1151.6 2058.1,971.0 2060.7,1155.2 2063.2,942.9 2065.8,1152.6 2068.4,944.3 2071.0,1148.7 2073.6,955.4 2076.2,1149.3 2078.8,959.6 2081.4,1149.7 2084.0,954.2 2086.6,1149.7 2089.2,943.8 2091.8,1162.6 2094.4,963.7 2097.0,1168.9 2099.6,986.8 2102.2,1168.4 2104.8,989.0 2107.4,1164.7 2110.0,981.2 2112.6,1162.8 2115.2,966.9 2117.8,1159.9 2120.4,976.8 2123.0,1147.4 2125.6,965.2 2128.2,1147.2 2130.8,950.6 2133.4,1150.3 2136.0,946.5 2138.6,1152.0 2141.2,954.7 2143.8,1153.3 2146.4,967.8 2149.0,1154.1 2151.6,946.7 2154.2,1153.5 2156.8,944.1 2159.4,1144.7 2162.0,941.6 2164.6,1139.6 2167.2,945.3 2169.8,1145.0 2172.4,948.0 2175.0,1148.0 2177.6,948.0 2180.2,1145.8 2182.8,960.7 2185.4,1146.0 2188.0,964.2 2190.6,1152.1 2193.2,958.4 2195.8,1157.1 2198.4,953.2 2201.0,1161.3 2203.6,951.7 2206.2,1159.6 2208.8,964.2 2211.4,1160.2 2214.0,968.0 2216.6,1160.6 2219.2,945.5 2221.8,1158.6 2224.4,936.5 2227.0,1157.2 2229.6,937.4 2232.2,1157.9 2234.8,941.8 2237.4,1156.7 2240.0,942.5 2242.6,1151.5 2245.2,937.3 2247.8,1148.6 2250.4,940.0 2253.0,1146.0 2255.6,947.1 2258.2,1149.3 2260.8,958.5 2263.4,1154.2 2266.0,970.8 2268.6,1159.3 2271.2,977.1 2273.8,1157.2 2276.4,947.8 2279.0,1147.7 2281.6,948.1 2284.2,1144.2 2286.8,952.5 2289.4,1147.5 2292.0,954.3 2294.6,1149.9 2297.2,955.4 2299.8,1154.2 2302.4,955.4 2305.0,1158.6" fill="none" stroke="#D95319" stroke-width="12.50" stroke-linejoin="round" stroke-linecap="round"/>
<polyline points="304.3,62.0 304.9,58.8 305.4,55.5 306.2,55.2 307.5,56.1 308.2,61.1 308.9,62.1 309.6,67.0 310.5,68.3 311.4,73.4 312.3,74.8 313.2,80.0 314.3,80.9 315.5,85.6 316.6,86.6 317.8,91.3 318.9,92.0 320.1,96.8 321.2,97.8 322.9,102.6 324.5,103.1 326.2,108.2 327.8,108.9 329.5,113.9 331.1,114.6 332.8,119.5 334.2,120.1 335.5,124.8 336.9,125.7 338.3,130.4 339.7,131.0 341.0,136.0 342.4,136.7 344.3,141.7 346.3,142.4 348.2,147.3 350.1,148.1 352.0,152.7 354.0,153.6 355.9,158.6 357.5,159.1 359.2,164.0 360.8,164.6 362.4,169.7 364.0,170.4 365.7,175.5 367.3,175.8 369.0,180.8 370.8,181.4 372.5,186.6 374.2,186.9 375.9,192.3 377.7,192.7 379.4,198.0 380.9,198.4 382.5,203.3 384.0,203.7 385.6,208.8 387.1,209.3 388.7,214.3 390.2,214.8 392.0,220.2 393.7,220.5 395.5,225.9 397.2,226.2 399.0,231.4 400.7,231.6 402.5,237.0 404.4,237.3 406.2,242.7 408.1,242.7 410.0,248.1 411.9,248.4 413.7,253.6 415.6,254.0 417.4,259.1 419.3,258.7 421.1,264.0 423.0,263.9 424.8,268.7 426.6,268.6 428.5,273.4 430.3,273.5 432.1,278.4 433.9,278.6 435.7,283.3 437.5,283.2 439.2,288.2 441.0,288.3 442.8,293.2 444.6,292.9 446.6,298.0 448.5,298.0 450.5,303.1 452.5,302.7 454.4,308.2 456.4,307.6 458.3,312.8 460.3,312.7 462.3,317.7 464.3,317.3 466.3,322.9 468.3,322.5 470.3,327.4 472.3,327.4 474.3,332.3 476.3,332.1 478.3,337.4 480.4,337.1 482.4,342.0 484.4,341.9 486.4,347.1 488.4,346.7 490.5,352.3 492.5,351.6 494.7,356.9 496.8,356.3 499.0,361.7 501.1,361.3 503.3,366.6 505.4,365.7 507.6,371.3 509.7,370.4 511.9,375.8 514.0,375.3 516.2,380.4 518.5,380.0 520.7,385.3 523.0,385.2 525.2,390.3 527.5,390.0 529.7,395.3 532.0,394.9 534.2,400.0 536.4,399.8 538.6,404.9 540.8,404.6 543.0,409.8 545.2,409.2 547.4,415.0 549.6,414.5 551.8,419.8 553.8,419.2 555.9,424.7 557.9,424.2 560.0,429.9 562.0,428.6 564.0,434.5 566.1,433.7 568.1,439.2 570.1,438.8 572.0,444.3 574.0,443.6 575.9,449.4 577.9,448.6 579.8,453.9 581.8,453.0 583.7,459.1 585.8,458.1 587.8,463.5 589.9,462.5 592.0,467.8 594.0,466.3 596.1,472.4 598.2,470.8 600.2,476.4 602.3,475.4 604.4,481.0 606.5,480.0 608.7,486.1 610.8,484.9 612.9,490.9 615.0,490.1 617.2,496.1 619.3,494.5 621.5,500.8 623.7,499.0 625.8,505.1 628.0,503.3 630.2,509.0 632.4,507.8 634.5,513.5 636.7,512.4 638.9,517.6 640.9,516.9 643.0,522.7 645.0,521.5 647.0,528.0 649.0,526.5 651.0,532.9 653.1,531.1 655.1,537.8 657.2,536.4 659.3,542.3 661.4,541.4 663.5,547.2 665.5,546.3 667.6,552.4 669.7,550.7 671.8,557.4 674.1,555.6 676.4,561.6 678.8,559.7 681.1,565.6 683.4,564.1 685.7,570.5 688.1,568.3 690.4,574.7 692.7,572.9 694.7,579.0 696.8,577.5 698.8,584.0 700.9,582.4 702.9,589.3 704.9,587.6 707.0,593.9 709.0,592.1 711.2,598.7 713.4,597.0 715.6,602.7 717.8,601.4 720.1,607.6 722.3,605.2 724.5,611.4 726.7,609.6 728.9,616.4 731.0,614.3 733.2,620.8 735.4,619.2 737.5,625.5 739.6,624.5 741.8,631.0 744.0,628.9 746.1,635.6 748.4,633.3 750.7,639.9 753.0,637.7 755.3,644.6 757.5,642.5 759.8,648.5 762.1,646.8 764.4,652.8 766.7,650.9 769.3,656.8 771.9,654.6 774.4,660.3 777.0,657.8 779.6,664.0 782.0,661.8 784.5,668.1 786.9,665.3 789.4,671.9 791.8,669.2 794.2,675.8 796.7,673.3 799.1,679.7 801.6,677.8 804.0,683.9 806.5,681.9 808.9,687.9 811.4,685.7 813.8,692.3 816.2,690.3 818.7,697.0 821.2,694.5 823.6,701.0 826.0,698.9 828.5,705.6 831.0,703.0 833.4,709.6 835.8,707.6 838.3,714.0 840.7,712.2 843.2,718.8 845.6,716.4 848.0,723.1 850.5,720.6 852.9,727.7 855.4,725.2 857.8,731.9 860.2,729.5 862.7,736.1 865.1,733.7 867.6,740.4 870.0,738.2 872.5,744.8 874.9,742.2 877.4,749.3 879.6,746.5 881.8,753.6 883.9,751.1 886.1,757.4 888.3,754.7 890.5,761.8 892.6,759.4 894.8,765.3 897.0,763.3 899.5,769.5 901.9,767.6 904.4,773.6 906.8,771.5 909.2,778.3 911.7,775.4 914.1,782.0 916.6,779.7 918.8,786.6 920.9,784.5 923.1,791.1 925.3,788.2 927.4,795.0 929.6,792.6 931.8,799.5 933.9,797.3 936.1,804.3 938.3,801.3 940.5,807.8 942.6,805.7 944.8,812.2 947.0,809.9 949.2,816.1 951.3,814.1 953.5,820.6 955.7,818.5 958.2,824.8 960.6,822.5 963.0,828.7 965.5,827.0 968.0,833.6 970.4,831.3 972.8,837.6 975.3,835.3 977.7,842.5 980.2,839.7 982.6,846.4 985.0,844.7 987.5,850.8 989.9,848.7 992.4,855.3 994.8,853.6 997.2,859.8 999.7,857.4 1002.1,864.6 1004.6,862.3 1007.0,868.4 1009.5,866.2 1011.9,873.2 1014.4,870.7 1016.9,877.1 1019.3,875.4 1021.8,881.7 1024.2,879.2 1026.7,885.4 1029.1,883.0 1031.5,889.9 1034.0,887.3 1036.4,893.9 1038.9,891.8 1041.3,898.4 1043.8,896.4 1046.2,903.3 1048.6,901.3 1051.1,908.0 1053.5,905.5 1056.0,912.0 1058.4,910.1 1060.8,916.2 1063.3,914.0 1065.8,919.9 1068.2,918.1 1070.6,923.9 1073.1,922.0 1075.5,928.1 1078.0,926.1 1080.5,932.6 1082.9,930.3 1085.3,936.6 1087.8,934.5 1090.2,940.6 1092.7,938.8 1094.9,944.7 1097.1,942.9 1099.2,949.2 1101.4,946.6 1103.6,952.9 1105.8,950.8 1107.9,957.6 1110.1,955.2 1112.3,961.7 1114.7,959.1 1117.2,965.5 1119.6,962.8 1122.0,969.5 1124.5,967.2 1126.9,973.8 1129.4,970.9 1131.8,977.6 1134.2,974.8 1136.7,981.5 1139.2,978.6 1141.6,984.9 1144.0,982.5 1146.5,988.2 1149.0,986.3 1151.4,991.9 1153.8,990.4 1156.3,997.6 1158.7,996.4 1161.2,1002.4 1163.6,1000.2 1166.0,1007.4 1168.5,1004.8 1171.0,1011.4 1173.4,1009.6 1175.8,1015.8 1178.3,1013.8 1180.7,1020.1 1183.2,1018.1 1185.6,1024.4 1188.0,1021.9 1190.5,1029.2 1192.9,1026.5 1195.4,1032.9 1197.8,1030.4 1200.2,1037.1 1202.7,1035.0 1205.2,1040.9 1207.6,1039.0 1210.0,1045.3 1212.5,1042.9 1215.0,1049.2 1217.4,1047.0 1220.2,1053.0 1223.0,1051.1 1225.8,1057.0 1228.6,1054.9 1231.4,1060.8 1234.2,1059.1 1237.0,1065.0 1239.5,1062.8 1241.9,1069.1 1244.3,1066.5 1246.8,1073.1 1249.2,1070.3 1251.7,1077.0 1254.1,1074.0 1256.6,1080.6 1259.0,1078.4 1261.5,1085.1 1263.9,1082.6 1266.3,1088.9 1268.8,1086.2 1271.2,1092.4 1273.7,1090.0 1276.1,1097.0 1278.9,1094.1 1281.7,1100.7 1284.5,1097.8 1287.3,1104.1 1290.1,1101.9 1292.9,1108.3 1295.7,1105.5 1298.2,1112.6 1300.6,1109.9 1303.0,1116.8 1305.5,1114.2 1308.0,1121.3 1310.4,1118.8 1312.8,1125.3 1315.3,1123.7 1317.7,1129.5 1320.2,1127.5 1322.6,1133.6 1325.0,1131.3 1327.5,1138.1 1329.9,1135.6 1332.4,1142.3 1334.8,1139.7 1337.2,1146.3 1339.7,1144.2 1342.2,1150.4 1344.6,1147.5 1347.0,1154.1 1349.5,1151.6 1352.0,1158.2 1354.4,1155.9 1356.9,1162.1 1359.3,1159.5 1361.8,1165.3 1364.2,1163.3 1366.7,1169.6 1369.1,1167.1 1371.5,1173.3 1374.0,1170.2 1376.4,1176.8 1378.9,1174.3 1381.3,1180.4 1383.8,1177.6 1386.2,1184.2 1388.6,1181.2 1391.1,1187.6 1393.5,1185.2 1396.0,1191.0 1398.5,1189.1 1401.0,1195.5 1403.5,1193.0 1406.0,1199.3 1408.5,1197.2 1411.0,1201.0 1414.0,1196.8 1416.6,1212.1" fill="none" stroke="#EDB120" stroke-width="14.80" stroke-linejoin="round" stroke-linecap="round"/>
<polyline points="1414.0,1196.8 1416.6,1212.1 1419.2,1199.9 1421.8,1216.2 1424.4,1203.0 1427.0,1220.4 1429.6,1206.2 1432.2,1224.5 1434.8,1209.1 1437.4,1227.9 1440.0,1211.7 1442.6,1231.1 1445.2,1216.4 1447.8,1234.4 1450.4,1223.1 1453.0,1238.2 1455.6,1228.6 1458.2,1243.3 1460.8,1233.3 1463.4,1247.9 1466.0,1238.0 1468.6,1250.8 1471.1,1242.7 1473.7,1253.4 1476.3,1244.8 1478.9,1257.2 1481.5,1246.5 1484.1,1261.1 1486.7,1248.2 1489.3,1266.1 1491.9,1249.7 1494.5,1268.7 1497.1,1249.2 1499.7,1271.3 1502.3,1252.2 1504.9,1273.9 1507.5,1258.2 1510.1,1276.4 1512.7,1259.4 1515.3,1279.0 1517.9,1261.8 1520.5,1286.4 1523.1,1267.7 1525.7,1288.1 1528.3,1278.2 1530.9,1295.4 1533.5,1285.8 1536.1,1297.2 1538.7,1289.1 1541.3,1298.7 1543.9,1286.9 1546.5,1300.4 1549.1,1283.5 1551.7,1301.8 1554.3,1287.1 1556.9,1301.8 1559.5,1287.1 1562.1,1306.6 1564.7,1290.2 1567.3,1311.4 1569.9,1297.9 1572.5,1315.4 1575.1,1307.2 1577.7,1318.9 1580.3,1312.8 1582.8,1322.3 1585.4,1311.8 1588.0,1325.8 1590.6,1311.7 1593.2,1329.1 1595.8,1312.7 1598.4,1330.0 1601.0,1313.1 1603.6,1333.6 1606.2,1314.6 1608.8,1337.6 1611.4,1327.6 1614.0,1340.9 1616.6,1334.1 1619.2,1343.5 1621.8,1336.8 1624.4,1347.5 1627.0,1338.2 1629.6,1352.1 1632.2,1338.1 1634.8,1357.3 1637.4,1331.8 1640.0,1359.2 1642.6,1334.2 1645.2,1362.8 1647.8,1336.3 1650.4,1367.5 1653.0,1338.6 1655.6,1371.8 1658.2,1344.8 1660.8,1376.1 1663.4,1354.1 1666.0,1379.8 1668.6,1358.8 1671.2,1383.3 1673.8,1371.4 1676.4,1386.8 1679.0,1372.4 1681.6,1390.8 1684.2,1379.1 1686.8,1392.7 1689.4,1381.1 1692.0,1393.5 1694.5,1381.6 1697.1,1396.9 1699.7,1381.7 1702.3,1398.9 1704.9,1376.9 1707.5,1400.2 1710.1,1379.9 1712.7,1404.6 1715.3,1384.7 1717.9,1408.3 1720.5,1394.1 1723.1,1410.6 1725.7,1394.4 1728.3,1409.7 1730.9,1391.4 1733.5,1413.2 1736.1,1394.5 1738.7,1418.4 1741.3,1405.7 1743.9,1423.4 1746.5,1410.5 1749.1,1426.7 1751.7,1409.9 1754.3,1429.1 1756.9,1405.8 1759.5,1430.9 1762.1,1403.7 1764.7,1433.1 1767.3,1405.8 1769.9,1433.6 1772.5,1408.4 1775.1,1432.2 1777.7,1411.2 1780.3,1435.9 1782.9,1412.4 1785.5,1440.8 1788.1,1408.4 1790.7,1445.1 1793.3,1412.9 1795.9,1447.1 1798.5,1416.4 1801.1,1456.7 1803.7,1417.4 1806.2,1460.1 1808.8,1444.2 1811.4,1466.2 1814.0,1442.9 1816.6,1470.9 1819.2,1441.4 1821.8,1473.8 1824.4,1438.9 1827.0,1471.9 1829.6,1439.2 1832.2,1473.5 1834.8,1442.5 1837.4,1476.7 1840.0,1448.7 1842.6,1481.0 1845.2,1442.0 1847.8,1482.2 1850.4,1438.7 1853.0,1485.8 1855.6,1441.3 1858.2,1492.8 1860.8,1464.5 1863.4,1495.3 1866.0,1460.8 1868.6,1495.3 1871.2,1464.9 1873.8,1498.7 1876.4,1471.3 1879.0,1499.0 1881.6,1468.4 1884.2,1497.9 1886.8,1453.4 1889.4,1499.8 1892.0,1463.8 1894.6,1503.7 1897.2,1469.3 1899.8,1504.7 1902.4,1471.0 1905.0,1505.8 1907.6,1476.4 1910.2,1508.4 1912.8,1478.7 1915.3,1511.8 1917.9,1477.6 1920.5,1519.6 1923.1,1482.8 1925.7,1520.1 1928.3,1483.5 1930.9,1521.4 1933.5,1481.1 1936.1,1526.1 1938.7,1489.0 1941.3,1526.6 1943.9,1495.3 1946.5,1528.4 1949.1,1503.7 1951.7,1532.8 1954.3,1504.4 1956.9,1532.8 1959.5,1498.6 1962.1,1528.8 1964.7,1499.6 1967.3,1531.1 1969.9,1498.9 1972.5,1533.7 1975.1,1496.3 1977.7,1535.6 1980.3,1493.7 1982.9,1538.9 1985.5,1493.6 1988.1,1542.5 1990.7,1492.7 1993.3,1542.0 1995.9,1489.6 1998.5,1538.9 2001.1,1487.7 2003.7,1537.1 2006.3,1494.0 2008.9,1537.6 2011.5,1498.1 2014.1,1538.1 2016.7,1493.6 2019.3,1538.8 2021.9,1495.7 2024.5,1542.4 2027.0,1499.7 2029.6,1547.7 2032.2,1504.8 2034.8,1549.1 2037.4,1501.2 2040.0,1545.1 2042.6,1501.0 2045.2,1546.4 2047.8,1507.5 2050.4,1549.3 2053.0,1496.6 2055.6,1547.1 2058.2,1468.4 2060.8,1541.7 2063.4,1470.6 2066.0,1546.4 2068.6,1474.4 2071.2,1553.2 2073.8,1490.6 2076.4,1557.4 2079.0,1515.6 2081.6,1559.0 2084.2,1503.7 2086.8,1558.0 2089.4,1499.7 2092.0,1560.3 2094.6,1499.8 2097.2,1560.3 2099.8,1487.1 2102.4,1563.6 2105.0,1486.3 2107.6,1565.1 2110.2,1495.4 2112.8,1564.4 2115.4,1501.1 2118.0,1563.0 2120.6,1514.9 2123.2,1562.4 2125.8,1508.2 2128.4,1561.7 2131.0,1499.3 2133.6,1561.1 2136.2,1497.4 2138.7,1566.5 2141.3,1502.2 2143.9,1566.5 2146.5,1500.7 2149.1,1567.6 2151.7,1505.7 2154.3,1568.4 2156.9,1510.1 2159.5,1566.7 2162.1,1513.2 2164.7,1565.0 2167.3,1515.8 2169.9,1565.9 2172.5,1515.4 2175.1,1568.1 2177.7,1515.5 2180.3,1569.4 2182.9,1517.5 2185.5,1571.1 2188.1,1516.7 2190.7,1573.1 2193.3,1510.0 2195.9,1572.2 2198.5,1493.5 2201.1,1574.8 2203.7,1490.9 2206.3,1580.8 2208.9,1495.4 2211.5,1580.8 2214.1,1522.9 2216.7,1576.7 2219.3,1516.8 2221.9,1570.2 2224.5,1512.3 2227.1,1568.9 2229.7,1508.3 2232.3,1574.0 2234.9,1508.5 2237.5,1576.7 2240.1,1518.8 2242.7,1581.2 2245.3,1513.1 2247.9,1584.6 2250.4,1515.9 2253.0,1585.9 2255.6,1531.0 2258.2,1588.9 2260.8,1515.9 2263.4,1593.8 2266.0,1513.9 2268.6,1596.3 2271.2,1522.6 2273.8,1596.6 2276.4,1535.8 2279.0,1595.0 2281.6,1535.2 2284.2,1590.4 2286.8,1548.3 2289.4,1592.9 2292.0,1548.3 2294.6,1598.1 2297.2,1559.3 2299.8,1599.7 2302.4,1560.4 2305.0,1595.2" fill="none" stroke="#EDB120" stroke-width="12.50" stroke-linejoin="round" stroke-linecap="round"/>
<g fill="#262626"><text transform="matrix(0.6070 0 0 0.6202 282.33 1812.18)" font-family="'Liberation Sans', sans-serif" font-size="100" font-weight="normal" font-style="normal">0</text><text transform="matrix(0.6070 0 0 0.6202 465.23 1812.18)" font-family="'Liberation Sans', sans-serif" font-size="100" font-weight="normal" font-style="normal">0.5</text><text transform="matrix(0.6070 0 0 0.6377 697.79 1812.80)" font-family="'Liberation Sans', sans-serif" font-size="100" font-weight="normal" font-style="normal">1</text><text transform="matrix(0.6070 0 0 0.6286 880.40 1812.17)" font-family="'Liberation Sans', sans-serif" font-size="100" font-weight="normal" font-style="normal">1.5</text><text transform="matrix(0.6070 0 0 0.6286 1114.92 1812.80)" font-family="'Liberation Sans', sans-serif" font-size="100" font-weight="normal" font-style="normal">2</text><text transform="matrix(0.6070 0 0 0.6197 1297.49 1812.18)" font-family="'Liberation Sans', sans-serif" font-size="100" font-weight="normal" font-style="normal">2.5</text><text transform="matrix(0.6070 0 0 0.6197 1531.38 1812.18)" font-family="'Liberation Sans', sans-serif" font-size="100" font-weight="normal" font-style="normal">3</text><text transform="matrix(0.6070 0 0 0.6197 1714.13 1812.18)" font-family="'Liberation Sans', sans-serif" font-size="100" font-weight="normal" font-style="normal">3.5</text><text transform="matrix(0.6070 0 0 0.6379 1947.71 1813.13)" font-family="'Liberation Sans', sans-serif" font-size="100" font-weight="normal" font-style="normal">4</text><text transform="matrix(0.6070 0 0 0.6242 2130.91 1812.18)" font-family="'Liberation Sans', sans-serif" font-size="100" font-weight="normal" font-style="normal">4.5</text><text transform="matrix(0.6070 0 0 0.6188 229.74 90.28)" font-family="'Liberation Sans', sans-serif" font-size="100" font-weight="normal" font-style="normal">0</text><text transform="matrix(0.6070 0 0 0.6271 209.73 275.27)" font-family="'Liberation Sans', sans-serif" font-size="100" font-weight="normal" font-style="normal">-5</text><text transform="matrix(0.6070 0 0 0.6188 175.72 461.28)" font-family="'Liberation Sans', sans-serif" font-size="100" font-weight="normal" font-style="normal">-10</text><text transform="matrix(0.6070 0 0 0.6271 175.88 646.27)" font-family="'Liberation Sans', sans-serif" font-size="100" font-weight="normal" font-style="normal">-15</text><text transform="matrix(0.6070 0 0 0.6183 175.72 832.28)" font-family="'Liberation Sans', sans-serif" font-size="100" font-weight="normal" font-style="normal">-20</text><text transform="matrix(0.6070 0 0 0.6183 175.88 1017.28)" font-family="'Liberation Sans', sans-serif" font-size="100" font-weight="normal" font-style="normal">-25</text><text transform="matrix(0.6070 0 0 0.6183 175.72 1203.28)" font-family="'Liberation Sans', sans-serif" font-size="100" font-weight="normal" font-style="normal">-30</text><text transform="matrix(0.6070 0 0 0.6183 175.88 1388.28)" font-family="'Liberation Sans', sans-serif" font-size="100" font-weight="normal" font-style="normal">-35</text><text transform="matrix(0.6070 0 0 0.6188 175.72 1574.28)" font-family="'Liberation Sans', sans-serif" font-size="100" font-weight="normal" font-style="normal">-40</text><text transform="matrix(0.6690 0 0 0.6757 1159.01 1900.42)" font-family="'Liberation Sans', sans-serif" font-size="100" font-weight="normal" font-style="normal">Iterations</text><text transform="matrix(0.6070 0 0 0.6216 0 1911.38)" x="3562.75 3639.82 3694.60" y="7.40 0.00 0.00" font-family="'Liberation Sans', sans-serif" font-size="100" font-weight="normal" font-style="normal">×10<tspan x="3751.00" y="-43.58" font-size="82.0">5</tspan></text></g>
<rect x="1415.2" y="53.2" width="884.7" height="239" fill="#fff" stroke="#262626" stroke-width="3.8"/>
<line x1="1433.1" y1="95.4" x2="1617.1" y2="95.4" stroke="#0072BD" stroke-width="12.6"/>
<line x1="1433.1" y1="168.6" x2="1617.1" y2="168.6" stroke="#D95319" stroke-width="12.6"/>
<line x1="1433.1" y1="245.6" x2="1617.1" y2="245.6" stroke="#EDB120" stroke-width="12.6"/>
<g fill="#000" stroke="#000" stroke-width="0.8" stroke-linejoin="round"><text transform="matrix(0.5948 0 0 0.6032 0 109.39)" x="2741.31 2813.21 2870.71 2953.62 3004.37 3037.00 3103.07" y="0" font-family="'Liberation Serif', serif" font-size="100" font-weight="normal" font-style="normal" vector-effect="non-scaling-stroke">OLMS-BF</text><text transform="matrix(0.5915 0 0 0.6107 0 177.98)" x="2756.11 2825.59 2884.59 2966.45 3017.80 3051.78 3117.88 3182.71" y="0.00 0.00 0.00 0.00 0.00 0.00 0.00 1.96" font-family="'Liberation Serif', serif" font-size="100" font-weight="normal" font-style="normal" vector-effect="non-scaling-stroke">NLMS-BF,</text><text transform="matrix(0.5915 0 0 0.6107 0 254.98)" x="2756.11 2825.59 2884.59 2966.45 3017.80 3051.78 3117.88 3182.71" y="0.00 0.00 0.00 0.00 0.00 0.00 0.00 1.96" font-family="'Liberation Serif', serif" font-size="100" font-weight="normal" font-style="normal" vector-effect="non-scaling-stroke">NLMS-BF,</text><text transform="matrix(0.6190 0 0 0.5417 1913.94 178.26)" font-family="'Liberation Serif', serif" font-size="100" font-weight="normal" font-style="italic" vector-effect="non-scaling-stroke">α</text><text transform="matrix(0.7226 0 0 0.2216 1944.31 171.51)" font-family="'Liberation Serif', serif" font-size="100" font-weight="normal" font-style="normal" vector-effect="non-scaling-stroke" stroke-width="1.7">^</text><text transform="matrix(0.4301 0 0 0.3942 1948.83 202.30)" font-family="'Liberation Serif', serif" font-size="100" font-weight="bold" font-style="normal" vector-effect="non-scaling-stroke">h</text><text transform="matrix(0.7999 0 0 0.5640 1991.00 182.84)" font-family="'Liberation Serif', serif" font-size="100" font-weight="normal" font-style="normal" vector-effect="non-scaling-stroke">=</text><text transform="matrix(0.6190 0 0 0.5417 2050.14 178.26)" font-family="'Liberation Serif', serif" font-size="100" font-weight="normal" font-style="italic" vector-effect="non-scaling-stroke">α</text><text transform="matrix(0.6952 0 0 0.2216 2080.55 171.51)" font-family="'Liberation Serif', serif" font-size="100" font-weight="normal" font-style="normal" vector-effect="non-scaling-stroke" stroke-width="1.7">^</text><text transform="matrix(0.4298 0 0 0.3462 2084.84 198.73)" font-family="'Liberation Serif', serif" font-size="100" font-weight="bold" font-style="normal" vector-effect="non-scaling-stroke">g</text><text transform="matrix(0.7934 0 0 0.5840 2125.13 183.56)" font-family="'Liberation Serif', serif" font-size="100" font-weight="normal" font-style="normal" vector-effect="non-scaling-stroke">=</text><text transform="matrix(0.5673 0 0 0.5850 2183.73 178.19)" font-family="'Liberation Serif', serif" font-size="100" font-weight="normal" font-style="normal" vector-effect="non-scaling-stroke">0.5</text><text transform="matrix(0.6190 0 0 0.5417 1913.94 255.26)" font-family="'Liberation Serif', serif" font-size="100" font-weight="normal" font-style="italic" vector-effect="non-scaling-stroke">α</text><text transform="matrix(0.7226 0 0 0.2216 1944.31 248.51)" font-family="'Liberation Serif', serif" font-size="100" font-weight="normal" font-style="normal" vector-effect="non-scaling-stroke" stroke-width="1.7">^</text><text transform="matrix(0.4301 0 0 0.3942 1948.83 279.30)" font-family="'Liberation Serif', serif" font-size="100" font-weight="bold" font-style="normal" vector-effect="non-scaling-stroke">h</text><text transform="matrix(0.7999 0 0 0.5640 1991.00 259.84)" font-family="'Liberation Serif', serif" font-size="100" font-weight="normal" font-style="normal" vector-effect="non-scaling-stroke">=</text><text transform="matrix(0.6190 0 0 0.5417 2050.14 255.26)" font-family="'Liberation Serif', serif" font-size="100" font-weight="normal" font-style="italic" vector-effect="non-scaling-stroke">α</text><text transform="matrix(0.6952 0 0 0.2216 2080.55 248.51)" font-family="'Liberation Serif', serif" font-size="100" font-weight="normal" font-style="normal" vector-effect="non-scaling-stroke" stroke-width="1.7">^</text><text transform="matrix(0.4298 0 0 0.3462 2084.84 275.73)" font-family="'Liberation Serif', serif" font-size="100" font-weight="bold" font-style="normal" vector-effect="non-scaling-stroke">g</text><text transform="matrix(0.7934 0 0 0.5840 2125.13 260.56)" font-family="'Liberation Serif', serif" font-size="100" font-weight="normal" font-style="normal" vector-effect="non-scaling-stroke">=</text><text transform="matrix(0.5619 0 0 0.5850 2183.75 255.19)" font-family="'Liberation Serif', serif" font-size="100" font-weight="normal" font-style="normal" vector-effect="non-scaling-stroke">0.04</text></g>
<g fill="#262626" stroke="#262626" stroke-width="0.8" stroke-linejoin="round" transform="translate(113.9 1100.0) rotate(-90)"><text transform="matrix(0.7080 0 0 0.7375 0 -0.06)" x="-2.31 69.44" y="0" font-family="'Liberation Serif', serif" font-size="100" font-weight="normal" font-style="normal" vector-effect="non-scaling-stroke">NM</text><text transform="matrix(0.7288 0 0 0.7591 0 0.12)" x="399.39 430.09 481.05 549.70" y="0" font-family="'Liberation Serif', serif" font-size="100" font-weight="normal" font-style="normal" vector-effect="non-scaling-stroke">(dB)</text><text transform="matrix(0.7646 0 0 1.5129 119.32 26.33)" font-family="'Liberation Serif', serif" font-size="100" font-weight="normal" font-style="normal" vector-effect="non-scaling-stroke">[</text><text transform="matrix(0.8646 0 0 0.7071 143.36 0.36)" font-family="'Liberation Serif', serif" font-size="100" font-weight="bold" font-style="normal" vector-effect="non-scaling-stroke">f</text><text transform="matrix(0.6001 0 0 0.8411 176.31 -0.22)" font-family="'Liberation Serif', serif" font-size="100" font-weight="normal" font-style="normal" vector-effect="non-scaling-stroke">,</text><text transform="matrix(0.8646 0 0 0.7071 204.36 0.36)" font-family="'Liberation Serif', serif" font-size="100" font-weight="bold" font-style="normal" vector-effect="non-scaling-stroke">f</text><text transform="matrix(0.8461 0 0 0.2495 198.90 -52.76)" font-family="'Liberation Serif', serif" font-size="100" font-weight="normal" font-style="normal" vector-effect="non-scaling-stroke" stroke-width="2.4">^</text><text transform="matrix(0.7194 0 0 1.5129 232.40 26.33)" font-family="'Liberation Serif', serif" font-size="100" font-weight="normal" font-style="normal" vector-effect="non-scaling-stroke">]</text></g>
</svg>
</body></html>
